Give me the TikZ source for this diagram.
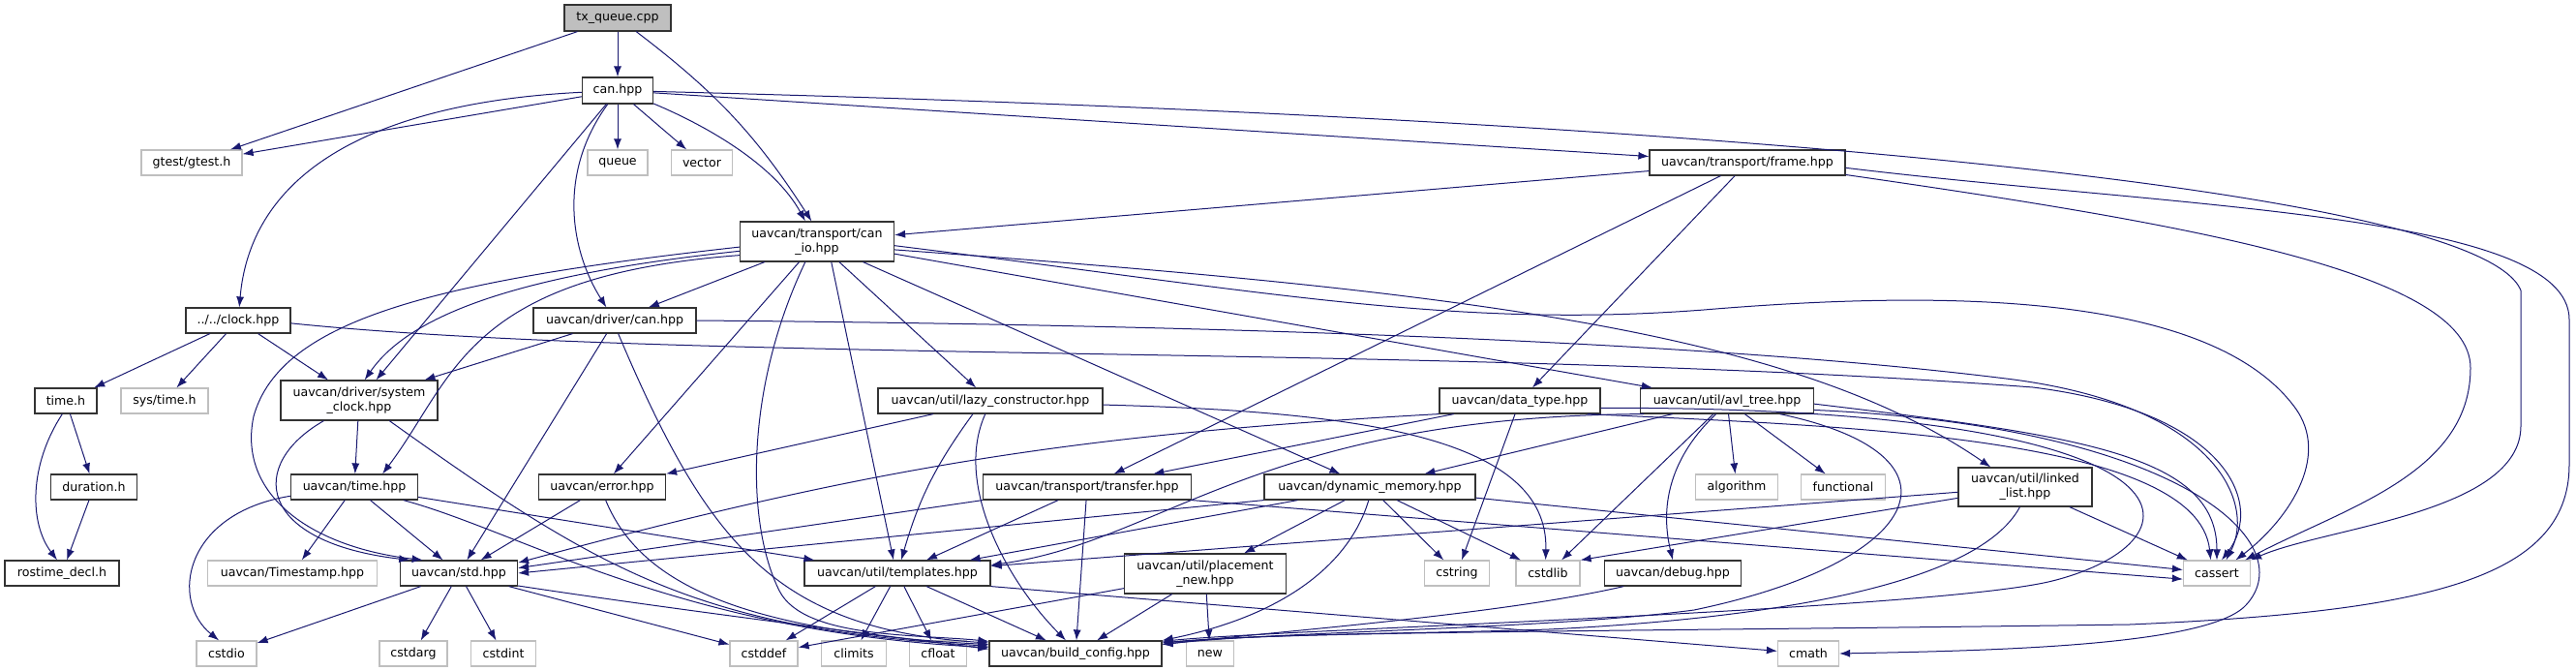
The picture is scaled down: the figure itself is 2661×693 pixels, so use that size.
\documentclass[tikz,border=0pt]{standalone}
\usepackage{fontspec}
\setmainfont{DejaVu Sans}
\usetikzlibrary{arrows.meta}
\definecolor{edgeblue}{HTML}{191970}
\definecolor{extgrey}{HTML}{BFBFBF}

\begin{document}
\begin{tikzpicture}[x=1pt, y=-1pt,
  file/.style={shape=rectangle, draw=black!80, line width=1.2pt, fill=white, minimum height=26pt, inner sep=2pt, align=center, font=\fontsize{12.6}{15}\selectfont},
  extfile/.style={file, draw=extgrey},
  rootfile/.style={file, fill=extgrey},
  dep/.style={draw=edgeblue, line width=1pt, -{Latex[length=11pt, width=8pt]}}]
\useasboundingbox (0,0) rectangle (2661,693);
% Files:
\node[rootfile, minimum width=110pt, minimum height=27pt] (tx) at (638,18.5) {tx\_queue.cpp};
\node[file, minimum width=73pt, minimum height=27pt] (can) at (638,93.5) {can.hpp};
\node[extfile, minimum width=104pt] (gtest) at (198,168) {gtest/gtest.h};
\node[extfile, minimum width=62pt] (queue) at (638,168) {queue};
\node[extfile, minimum width=63pt] (vector) at (725,168) {vector};
\node[file, minimum width=202pt] (frame) at (1805,168) {uavcan/transport/frame.hpp};
\node[file, minimum width=159pt, minimum height=41pt] (canio) at (844,249.5) {uavcan/transport/can\\\_io.hpp};
\node[file, minimum width=108pt] (clock) at (246,331) {../../clock.hpp};
\node[file, minimum width=168pt] (dcan) at (635,331) {uavcan/driver/can.hpp};
\node[file, minimum width=64pt] (timeh) at (68,414) {time.h};
\node[extfile, minimum width=90pt] (systime) at (170,414) {sys/time.h};
\node[file, minimum width=162pt, minimum height=41pt] (sysclk) at (371,413.5) {uavcan/driver/system\\\_clock.hpp};
\node[file, minimum width=232pt] (lazy) at (1023,414) {uavcan/util/lazy\_constructor.hpp};
\node[file, minimum width=166pt] (dtype) at (1570,414) {uavcan/data\_type.hpp};
\node[file, minimum width=179pt] (avl) at (1784,414) {uavcan/util/avl\_tree.hpp};
\node[file, minimum width=89pt] (duration) at (97,503) {duration.h};
\node[file, minimum width=131pt] (ltime) at (366,503) {uavcan/time.hpp};
\node[file, minimum width=131pt] (error) at (622,503) {uavcan/error.hpp};
\node[file, minimum width=215pt] (transfer) at (1123,503) {uavcan/transport/transfer.hpp};
\node[file, minimum width=218pt] (dynmem) at (1415,503) {uavcan/dynamic\_memory.hpp};
\node[extfile, minimum width=85pt] (algorithm) at (1794,503) {algorithm};
\node[extfile, minimum width=87pt] (functional) at (1904,503) {functional};
\node[file, minimum width=138pt, minimum height=40pt] (llist) at (2092,503) {uavcan/util/linked\\\_list.hpp};
\node[file, minimum width=118pt] (rostime) at (64,592) {rostime\_decl.h};
\node[extfile, minimum width=175pt] (timestamp) at (302,592) {uavcan/Timestamp.hpp};
\node[file, minimum width=121pt] (std) at (474,592) {uavcan/std.hpp};
\node[file, minimum width=192pt] (templates) at (927,592) {uavcan/util/templates.hpp};
\node[file, minimum width=167pt, minimum height=41pt] (placement) at (1245,592.5) {uavcan/util/placement\\\_new.hpp};
\node[extfile, minimum width=67pt] (cstring) at (1505,592) {cstring};
\node[extfile, minimum width=66pt] (cstdlib) at (1599,592) {cstdlib};
\node[file, minimum width=141pt] (debug) at (1728,592) {uavcan/debug.hpp};
\node[extfile, minimum width=69pt] (cassert) at (2290,592) {cassert};
\node[extfile, minimum width=62pt] (cstdio) at (234,675) {cstdio};
\node[extfile, minimum width=70pt] (cstdarg) at (427,675) {cstdarg};
\node[extfile, minimum width=67pt] (cstdint) at (520,675) {cstdint};
\node[extfile, minimum width=70pt] (cstddef) at (789,675) {cstddef};
\node[extfile, minimum width=67pt] (climits) at (882,675) {climits};
\node[extfile, minimum width=59pt] (cfloat) at (969,675) {cfloat};
\node[file, minimum width=178pt] (bconf) at (1111,675) {uavcan/build\_config.hpp};
\node[extfile, minimum width=49pt] (cnew) at (1250,675) {new};
\node[extfile, minimum width=63pt] (cmath) at (1868,675) {cmath};

% Includes:
\draw[dep] (tx) -- (gtest);
\draw[dep] (tx) -- (can);
\draw[dep] (tx) to[bend left=10] (canio.105);

\draw[dep] (can) -- (gtest);
\draw[dep] (can) .. controls (400,105) and (260,170) .. (clock);
\draw[dep] (can) -- (sysclk);
\draw[dep] (can) .. controls (575,180) and (590,260) .. (dcan);
\draw[dep] (can) -- (queue);
\draw[dep] (can) -- (vector);
\draw[dep] (can.-20) .. controls (730,130) and (800,170) .. (canio.120);
\draw[dep] (can) -- (frame);
\draw[dep] (can) .. controls (1700,120) and (2560,190) .. (2604,300) -- (2604,440) .. controls (2604,530) and (2400,545) .. (cassert.north east);

\draw[dep] (frame) -- (canio);
\draw[dep] (frame) -- (transfer);
\draw[dep] (frame) -- (dtype);
\draw[dep] (frame.-7) .. controls (2250,230) and (2552,280) .. (2552,380) .. controls (2552,490) and (2420,525) .. (cassert.25);
\draw[dep] (frame.-3) .. controls (2250,215) and (2654,220) .. (2654,330) -- (2654,480) .. controls (2654,600) and (2500,632) .. (2200,645) .. controls (1700,652) and (1320,652) .. (bconf.7);

\draw[dep] (canio) -- (dcan);
\draw[dep] (canio.187) .. controls (520,285) and (420,330) .. (sysclk.75);
\draw[dep] (canio.184) .. controls (450,290) and (290,330) .. (262,430) .. controls (245,510) and (320,565) .. (std.160);
\draw[dep] (canio.190) .. controls (480,285) and (470,390) .. (ltime.25);
\draw[dep] (canio) -- (error);
\draw[dep] (canio) -- (lazy);
\draw[dep] (canio.-55) -- ([xshift=-4pt]templates.north);
\draw[dep] (canio.-120) .. controls (770,400) and (770,540) .. (805,610) .. controls (830,660) and (950,655) .. (bconf.172);
\draw[dep] (canio) -- (dynmem);
\draw[dep] (canio.-9) -- (avl.170);
\draw[dep] (canio.-6) .. controls (1500,300) and (1850,340) .. (llist.150);
\draw[dep] (canio.-3) .. controls (1300,300) and (1500,340) .. (1760,320) .. controls (2000,300) and (2280,300) .. (2370,420) .. controls (2410,473) and (2360,540) .. (cassert.35);

\draw[dep] (clock) -- (timeh);
\draw[dep] (clock) -- (systime);
\draw[dep] (clock) -- (sysclk);
\draw[dep] (clock.-3) .. controls (700,375) and (1500,355) .. (2100,400) .. controls (2300,425) and (2340,520) .. (cassert.70);

\draw[dep] (dcan) -- (sysclk);
\draw[dep] (dcan) -- (std);
\draw[dep] (dcan.-75) .. controls (730,560) and (800,650) .. (bconf.173);
\draw[dep] (dcan.east) .. controls (1200,335) and (1750,350) .. (2080,392) .. controls (2290,420) and (2330,520) .. (cassert.55);

\draw[dep] (timeh) -- (duration);
\draw[dep] (timeh.-105) .. controls (30,480) and (30,540) .. (rostime.110);
\draw[dep] (duration) -- (rostime);

\draw[dep] (sysclk) -- (ltime);
\draw[dep] (sysclk.-150) .. controls (255,480) and (265,560) .. (std.165);
\draw[dep] (sysclk.-34) .. controls (620,590) and (720,650) .. (bconf.175);

\draw[dep] (lazy.193) -- (error.north east);
\draw[dep] (lazy.-143) to[bend right=10] ([xshift=4pt]templates.north);
\draw[dep] (lazy.-111) .. controls (985,500) and (1040,600) .. ([xshift=-10pt]bconf.north);
\draw[dep] (lazy.-2) .. controls (1400,425) and (1600,450) .. (cstdlib.100);

\draw[dep] (dtype) -- (transfer);
\draw[dep] (dtype.south west) to[bend right=6] (std.10);
\draw[dep] (dtype) -- (cstring);
\draw[dep] (dtype.-11) .. controls (1900,440) and (2270,450) .. (cassert.115);
\draw[dep] (dtype.-5) .. controls (2300,420) and (2280,560) .. (2120,600) .. controls (2000,630) and (1320,650) .. (bconf.8);

\draw[dep] (avl.189) .. controls (1300,430) and (1200,560) .. (templates.5);
\draw[dep] (avl) -- (dynmem);
\draw[dep] (avl) -- (algorithm);
\draw[dep] (avl) -- (functional);
\draw[dep] (avl) -- (cstdlib);
\draw[dep] (avl.-130) to[bend right=30] (debug.north);
\draw[dep] (avl.-14) .. controls (2040,470) and (1990,580) .. (1750,630) .. controls (1600,650) and (1320,652) .. (bconf.6);
\draw[dep] (avl.-2) .. controls (2150,450) and (2290,470) .. (cassert.90);
\draw[dep] (avl.-6) .. controls (2250,440) and (2380,560) .. (2320,625) .. controls (2280,668) and (2050,672) .. (cmath.east);

\draw[dep] (ltime.188) .. controls (190,530) and (175,620) .. (cstdio.120);
\draw[dep] (ltime) -- (timestamp);
\draw[dep] (ltime) -- (std);
\draw[dep] (ltime) -- (templates);
\draw[dep] (ltime.-15) .. controls (540,550) and (700,652) .. (bconf.176);

\draw[dep] (error) -- (std);
\draw[dep] (error.-75) .. controls (660,600) and (760,652) .. (bconf.174);

\draw[dep] (transfer) -- (templates);
\draw[dep] (transfer) -- (bconf);
\draw[dep] (transfer.south west) -- (std.5);
\draw[dep] (transfer.south east) -- (cassert.190);

\draw[dep] (dynmem) -- (templates);
\draw[dep] (dynmem.south west) -- (std.east);
\draw[dep] (dynmem) -- (placement);
\draw[dep] (dynmem) -- (cstring);
\draw[dep] (dynmem) -- (cstdlib);
\draw[dep] (dynmem.-95) .. controls (1395,580) and (1330,635) .. (bconf.north east);
\draw[dep] (dynmem) -- (cassert);

\draw[dep] (llist) -- (templates);
\draw[dep] (llist) -- (cstdlib.north east);
\draw[dep] (llist.-105) .. controls (2040,610) and (1800,640) .. (1600,650) .. controls (1450,655) and (1320,654) .. (bconf.7);
\draw[dep] (llist) -- (cassert);

\draw[dep] (std) -- (cstdio);
\draw[dep] (std) -- (cstdarg);
\draw[dep] (std) -- (cstdint);
\draw[dep] (std) -- (cstddef);
\draw[dep] (std.-12) .. controls (700,630) and (900,655) .. (bconf.177);

\draw[dep] (templates) -- (cstddef);
\draw[dep] (templates) -- (climits);
\draw[dep] (templates) -- (cfloat);
\draw[dep] (templates) -- (bconf);
\draw[dep] (templates.south east) -- (cmath);

\draw[dep] (placement) -- (cstddef);
\draw[dep] (placement) -- (cnew);
\draw[dep] (placement) -- (bconf);

\draw[dep] (debug.-165) .. controls (1550,635) and (1320,652) .. (bconf.6);
\end{tikzpicture}
\end{document}
